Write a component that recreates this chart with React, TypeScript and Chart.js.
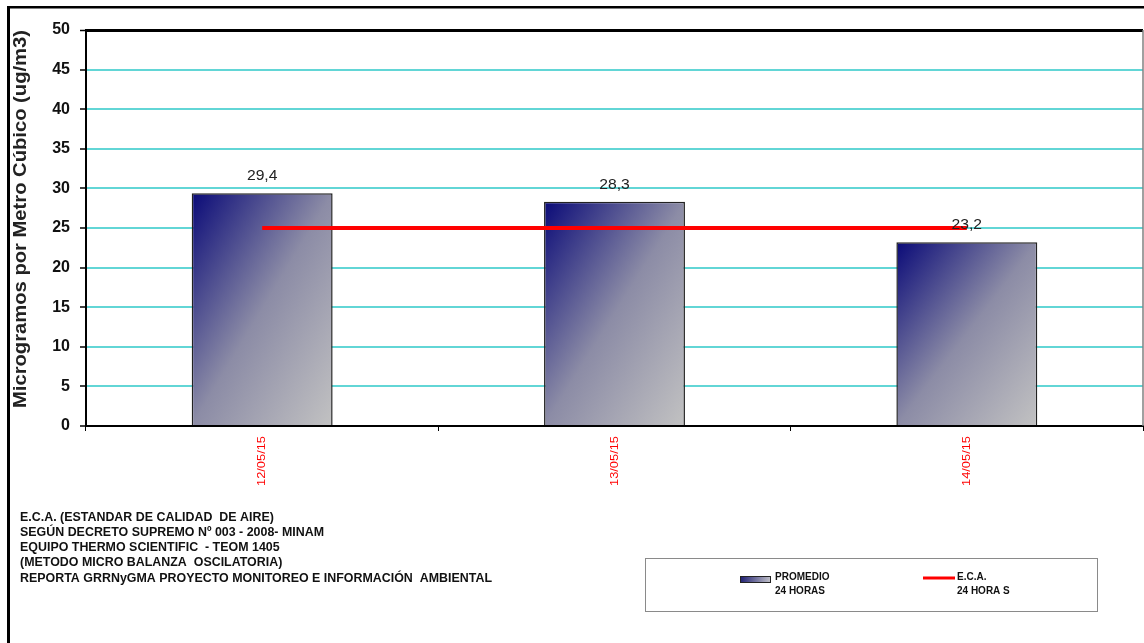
import { useEffect, useRef } from "react";
import { Chart, registerables } from "chart.js";

Chart.register(...registerables);

const categories = ["12/05/15", "13/05/15", "14/05/15"];
const promedio = [29.4, 28.3, 23.2];
const eca = [25, 25, 25];
const yMin = 0;
const yMax = 50;
const yStep = 5;
const yTitle = "Microgramos por Metro Cúbico (ug/m3)";
const notes = [
  "E.C.A. (ESTANDAR DE CALIDAD  DE AIRE)",
  "SEGÚN DECRETO SUPREMO Nº 003 - 2008- MINAM",
  "EQUIPO THERMO SCIENTIFIC  - TEOM 1405",
  "(METODO MICRO BALANZA  OSCILATORIA)",
  "REPORTA GRRNyGMA PROYECTO MONITOREO E INFORMACIÓN  AMBIENTAL",
];
const legendBar = ["PROMEDIO", "24 HORAS"];
const legendLine = ["E.C.A.", "24 HORA S"];

const FONT = "Arial, 'Liberation Sans', sans-serif";
const GRID = "#62d6d6";

function barGradient(ctx: CanvasRenderingContext2D, x0: number, y0: number, w: number, h: number) {
  const k = (2 * w * h) / (h * h + w * w);
  const g = ctx.createLinearGradient(x0, y0, x0 + k * h, y0 + k * w);
  g.addColorStop(0, "#0a0a78");
  g.addColorStop(0.5, "#8c8ca6");
  g.addColorStop(1, "#c2c2c2");
  return g;
}

const decorPlugin = {
  id: "decor",
  afterDatasetsDraw(chart: any) {
    const ctx = chart.ctx as CanvasRenderingContext2D;
    const meta = chart.getDatasetMeta(1);
    ctx.save();
    ctx.font = `14px ${FONT}`;
    ctx.fillStyle = "#222";
    ctx.textAlign = "center";
    ctx.textBaseline = "middle";
    meta.data.forEach((el: any, i: number) => {
      ctx.save();
      ctx.translate(el.x, el.y - 17);
      ctx.scale(1.12, 1);
      ctx.fillText(String(promedio[i]).replace(".", ","), 0, 0);
      ctx.restore();
    });
    ctx.restore();
  },
  afterDraw(chart: any) {
    const ctx = chart.ctx as CanvasRenderingContext2D;
    const ca = chart.chartArea;
    const xs = chart.scales.x;
    ctx.save();
    // outer frame
    ctx.fillStyle = "#000";
    ctx.fillRect(7, 6, 3, 637);
    ctx.fillRect(7, 6, 1137, 2.5);
    // right plot border
    ctx.strokeStyle = "#808080";
    ctx.lineWidth = 1.5;
    ctx.beginPath();
    ctx.moveTo(ca.right, ca.top);
    ctx.lineTo(ca.right, ca.bottom);
    ctx.stroke();

    // y title
    ctx.save();
    ctx.fillStyle = "#222";
    ctx.font = `bold 18px ${FONT}`;
    ctx.textAlign = "center";
    ctx.textBaseline = "middle";
    const tw = ctx.measureText(yTitle).width;
    ctx.translate(21, 219);
    ctx.rotate(-Math.PI / 2);
    ctx.scale(378 / tw, 1);
    ctx.fillText(yTitle, 0, 0);
    ctx.restore();

    // x labels
    ctx.save();
    ctx.fillStyle = "#ff0000";
    ctx.font = `11px ${FONT}`;
    ctx.textAlign = "right";
    ctx.textBaseline = "middle";
    categories.forEach((c, i) => {
      const w = ctx.measureText(c).width;
      ctx.save();
      ctx.translate(xs.getPixelForValue(i), ca.bottom + 10);
      ctx.rotate(-Math.PI / 2);
      ctx.scale(50 / w, 1);
      ctx.fillText(c, 0, 0);
      ctx.restore();
    });
    ctx.restore();

    // notes
    ctx.fillStyle = "#111";
    ctx.font = `bold 12px ${FONT}`;
    ctx.textAlign = "left";
    ctx.textBaseline = "middle";
    const nw = ctx.measureText(notes[4]).width;
    const ns = 472 / nw;
    notes.forEach((t, i) => {
      ctx.save();
      ctx.translate(20, 517.5 + i * 15.2);
      ctx.scale(ns, 1);
      ctx.fillText(t, 0, 0);
      ctx.restore();
    });
    // legend box
    ctx.strokeStyle = "#8a8a8a";
    ctx.lineWidth = 1;
    ctx.strokeRect(645.5, 558.5, 452, 53);
    // bar swatch
    ctx.fillStyle = (() => {
      const g = ctx.createLinearGradient(740, 576, 770, 582);
      g.addColorStop(0, "#1a1a70");
      g.addColorStop(1, "#c0c0c8");
      return g;
    })();
    ctx.fillRect(740, 576, 30, 6);
    ctx.strokeStyle = "#222";
    ctx.lineWidth = 1;
    ctx.strokeRect(740.5, 576.5, 30, 6);
    ctx.fillStyle = "#111";
    ctx.font = `bold 10px ${FONT}`;
    legendBar.forEach((t, i) => ctx.fillText(t, 775, 577 + i * 14));
    // line swatch
    ctx.strokeStyle = "#ff0000";
    ctx.lineWidth = 3;
    ctx.beginPath();
    ctx.moveTo(923, 578);
    ctx.lineTo(955, 578);
    ctx.stroke();
    legendLine.forEach((t, i) => ctx.fillText(t, 957, 577 + i * 14));
    ctx.restore();
  },
};

export default function App() {
  const ref = useRef<HTMLCanvasElement>(null);

  useEffect(() => {
    if (!ref.current) return;
    const chart = new Chart(ref.current, {
      type: "bar",
      data: {
        labels: categories,
        datasets: [
          {
            type: "line",
            label: "E.C.A. 24 HORAS",
            data: eca,
            borderColor: "#ff0000",
            borderWidth: 4,
            pointRadius: 0,
            fill: false,
            order: 0,
          } as any,
          {
            type: "bar",
            label: "PROMEDIO 24 HORAS",
            data: promedio,
            order: 1,
            barPercentage: 0.4,
            categoryPercentage: 1,
            borderColor: "#222",
            borderWidth: 1.5,
            backgroundColor: (c: any) => {
              const ch = c.chart;
              const xs = ch.scales?.x;
              const ys = ch.scales?.y;
              if (!xs || !ys || c.dataIndex == null) return "#6a6a98";
              const cx = xs.getPixelForValue(c.dataIndex);
              const w = Math.abs(xs.getPixelForValue(1) - xs.getPixelForValue(0)) * 0.4;
              const top = ys.getPixelForValue(promedio[c.dataIndex]);
              const base = ys.getPixelForValue(0);
              if (!isFinite(cx) || !isFinite(top) || !isFinite(base) || base - top <= 0) return "#6a6a98";
              return barGradient(ch.ctx, cx - w / 2, top, w, base - top);
            },
          },
        ],
      },
      options: {
        animation: false,
        responsive: false,
        devicePixelRatio: 1,
        layout: { padding: { left: 6, top: 30, right: 1, bottom: 147 } },
        plugins: {
          legend: { display: false },
          tooltip: { enabled: false },
        },
        scales: {
          x: {
            offset: true,
            grid: {
              drawOnChartArea: false,
              drawTicks: true,
              tickLength: 5,
              tickColor: "#000",
              offset: true,
            },
            border: { color: "#000", width: 2 },
            ticks: {
              display: false,
            },
            afterFit: (s: any) => {
              s.height = 70;
            },
          },
          y: {
            min: yMin,
            max: yMax,
            ticks: {
              stepSize: yStep,
              color: "#111",
              font: { family: FONT, size: 16, weight: "bold" },
              padding: 10,
            },
            grid: {
              color: (c: any) => (c.tick && (c.tick.value === yMax || c.tick.value === yMin) ? "#000" : GRID),
              lineWidth: (c: any) => (c.tick && c.tick.value === yMax ? 3 : 2),
              tickColor: "#000",
              tickLength: 6,
              tickWidth: 1.5,
            } as any,
            border: { color: "#000", width: 2 },
            title: { display: false },
            afterFit: (s: any) => {
              s.width = 80;
            },
          },
        },
      },
      plugins: [decorPlugin],
    });
    return () => chart.destroy();
  }, []);

  return (
    <div style={{ position: "fixed", left: 0, top: 0, width: 1144, height: 643, background: "#fff" }}>
      <canvas ref={ref} width={1144} height={643} style={{ display: "block" }} />
    </div>
  );
}
